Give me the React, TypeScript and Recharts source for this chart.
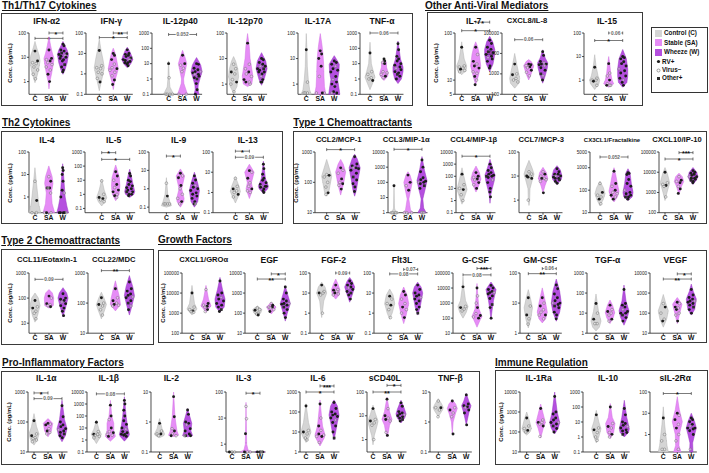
import React from 'react';
import { ComposedChart, Scatter, XAxis, YAxis, ReferenceLine, Curve } from 'recharts';

type Pt = [number, number];
type Vio = { o: Pt[]; d: number[]; t: string };
type Sig = [number, number, number, string];
type Panel = { name: string; dom: [number, number]; ticks: number[]; C: Vio; SA: Vio; W: Vio; sig: Sig[] };

// ---------------- DATA ----------------
const IFNa2: Panel = { name: 'IFN-α2', dom: [0.3, 100], ticks: [1, 10, 100],
  C: { o: [[0.9, 0], [1.5, 0.1], [3, 0.22], [7, 0.3], [12, 0.25], [25, 0.1], [45, 0]], d: [18, 7, 6, 5.5, 4, 3, 2, 1.3], t: 'RRVVVVVV' },
  SA: { o: [[0.5, 0], [1, 0.05], [2, 0.15], [5, 0.25], [9, 0.3], [15, 0.2], [30, 0.1], [70, 0]], d: [20, 9, 8, 7, 6, 5, 4, 3, 2, 1], t: 'RRVRVVVVRR' },
  W: { o: [[2, 0], [3, 0.12], [6, 0.25], [13, 0.33], [20, 0.25], [30, 0.12], [45, 0]], d: [35, 30, 20, 18, 15, 14, 13, 12, 11, 10, 9, 8, 7, 5, 4, 3, 2.5], t: 'RRRRORRVRRRRRORRR' },
  sig: [[1, 2, 100, '*'], [0, 2, 60, '*']] };
const IFNg: Panel = { name: 'IFN-γ', dom: [0.1, 100], ticks: [0.1, 1, 10, 100],
  C: { o: [[0.15, 0], [0.3, 0.08], [0.8, 0.2], [2, 0.3], [5, 0.22], [15, 0.1], [50, 0]], d: [14, 2.5, 2, 1.8, 1.2, 1, 0.6, 0.4], t: 'RVVVVVVR' },
  SA: { o: [[0.17, 0], [0.4, 0.08], [1, 0.22], [1.8, 0.3], [4, 0.22], [10, 0.12], [18, 0]], d: [10, 8, 5, 3, 2, 1.8, 1.5, 1.2, 0.8, 0.5, 0.3], t: 'RRRVVRVVVRR' },
  W: { o: [[2, 0], [3, 0.2], [5, 0.33], [8, 0.25], [14, 0.12], [20, 0]], d: [15, 10, 9, 8, 7, 6, 5, 5, 4.5, 4, 3.5, 3.5, 3, 2.5], t: 'RRRRRORVRRRRRR' },
  sig: [[1, 2, 100, '**'], [0, 2, 60, '*']] };
const IL12p40: Panel = { name: 'IL-12p40', dom: [0.1, 1000], ticks: [0.1, 1, 10, 100, 1000],
  C: { o: [[0.1, 0.32], [0.13, 0.25], [0.3, 0.08], [1, 0.04], [5, 0.02], [15, 0]], d: [10, 1.2, 0.1, 0.1, 0.1, 0.1], t: 'RVVVVV' },
  SA: { o: [[0.1, 0.3], [0.2, 0.2], [0.5, 0.08], [1, 0.06], [3, 0.15], [10, 0.25], [25, 0.15], [75, 0]], d: [35, 10, 8, 5, 3, 0.1, 0.1], t: 'RRVVVVV' },
  W: { o: [[0.1, 0.15], [0.2, 0.08], [0.4, 0.1], [1, 0.2], [3, 0.33], [8, 0.25], [15, 0.12], [25, 0]], d: [10, 9, 5, 4, 3, 3, 2.5, 2, 2, 1.5, 1.2, 1, 0.5, 0.2, 0.1], t: 'RRRRRVRRVRRORRR' },
  sig: [[0, 2, 800, '0.052']] };
const IL12p70: Panel = { name: 'IL-12p70', dom: [0.4, 100], ticks: [1, 10, 100],
  C: { o: [[0.45, 0], [0.8, 0.2], [2, 0.3], [4, 0.25], [8, 0.12], [12, 0]], d: [6, 4, 3, 2.5, 1.5, 1.2, 1, 0.5], t: 'VVRVVRVV' },
  SA: { o: [[0.8, 0], [1, 0.25], [2, 0.32], [4, 0.25], [10, 0.15], [30, 0.1], [95, 0]], d: [40, 6, 4, 3, 2.5, 2, 1.5, 1.2, 1.2, 1], t: 'RVVRVVRVRV' },
  W: { o: [[0.9, 0], [1.5, 0.15], [4, 0.33], [8, 0.25], [17, 0]], d: [10, 9, 7, 6, 5, 5, 4, 4, 3.5, 3, 3, 2.5, 2, 1.5, 1.2, 1.2], t: 'RRRRVRRORRRRVRRR' },
  sig: [] };
const IL17A: Panel = { name: 'IL-17A', dom: [0.4, 100], ticks: [1, 10, 100],
  C: { o: [[0.4, 0.3], [0.6, 0.2], [1.5, 0.12], [5, 0.06], [20, 0.04], [95, 0]], d: [22, 1.2, 0.45, 0.45, 0.45], t: 'RVVVV' },
  SA: { o: [[0.4, 0.33], [0.8, 0.25], [2, 0.22], [6, 0.2], [15, 0.16], [35, 0.1], [95, 0]], d: [20, 15, 10, 5, 2, 0.45, 0.45, 0.45], t: 'RRRRVVVR' },
  W: { o: [[0.4, 0.33], [0.7, 0.28], [1.5, 0.2], [3, 0.28], [6, 0.3], [9, 0.15], [13, 0]], d: [8, 7, 6, 5, 4, 3.5, 3, 2, 1.5, 1.2, 1, 0.8, 0.5, 0.45, 0.45], t: 'RRRVRRRRVRRRRRV' },
  sig: [] };
const TNFa: Panel = { name: 'TNF-α', dom: [0.1, 1000], ticks: [0.1, 1, 10, 100, 1000],
  C: { o: [[0.2, 0], [0.5, 0.15], [1.3, 0.3], [3, 0.2], [10, 0.08], [50, 0.04], [250, 0]], d: [50, 3, 2, 1.2, 1, 0.8], t: 'RVVVVR' },
  SA: { o: [[0.8, 0], [1.5, 0.22], [2.5, 0.25], [6, 0.15], [12, 0.15], [20, 0]], d: [20, 15, 12, 10, 3, 2.5, 2, 1.5, 1.2], t: 'RRVRVVVRV' },
  W: { o: [[0.5, 0], [1, 0.2], [3, 0.3], [6, 0.3], [20, 0.15], [100, 0.06], [300, 0]], d: [200, 80, 30, 20, 15, 10, 8, 6, 5, 4, 3, 2.5, 2, 1.5, 1], t: 'RRRRRRRRVRRRORR' },
  sig: [[0, 2, 1000, '0.06']] };
const IL7: Panel = { name: 'IL-7', dom: [5, 100], ticks: [5, 10, 100],
  C: { o: [[13, 0], [16, 0.25], [20, 0.3], [28, 0.15], [45, 0.06], [65, 0]], d: [50, 20, 19, 18, 17, 16, 15], t: 'RVVVRVV' },
  SA: { o: [[8, 0], [12, 0.15], [20, 0.3], [35, 0.22], [50, 0.12], [65, 0]], d: [50, 35, 25, 22, 20, 18, 15, 14, 12, 10, 8], t: 'RVRVRRVVRVR' },
  W: { o: [[15, 0], [22, 0.2], [35, 0.3], [45, 0.3], [65, 0.18], [85, 0]], d: [70, 60, 50, 45, 40, 38, 35, 32, 30, 28, 25, 20, 18], t: 'RRRRORRRVRRRR' },
  sig: [[1, 2, 170, '*'], [0, 2, 112, '*']] };
const CXCL8: Panel = { name: 'CXCL8/IL-8', dom: [100, 100000], ticks: [100, 1000, 10000, 100000],
  C: { o: [[200, 0], [350, 0.25], [600, 0.3], [1500, 0.2], [3000, 0.12], [10000, 0]], d: [3000, 1000, 900, 600, 500, 400], t: 'RVRVVV' },
  SA: { o: [[500, 0], [1000, 0.15], [2500, 0.3], [4000, 0.15], [5000, 0]], d: [3000, 2800, 2500, 2200, 2000, 1500, 1200, 800], t: 'RRVRVRVV' },
  W: { o: [[350, 0], [800, 0.15], [2000, 0.28], [3500, 0.3], [6000, 0.15], [15000, 0]], d: [12000, 8000, 4000, 3500, 3000, 3000, 2800, 2500, 2000, 1500, 1000, 800, 500], t: 'RRRVRRRVRROVR' },
  sig: [[0, 2, 47000, '0.06']] };
const IL15: Panel = { name: 'IL-15', dom: [0.25, 100], ticks: [1, 10, 100],
  C: { o: [[0.4, 0], [0.7, 0.25], [1, 0.3], [1.5, 0.2], [4, 0.08], [12, 0]], d: [3.5, 1.2, 1, 1, 0.9, 0.6], t: 'RVVVRV' },
  SA: { o: [[0.5, 0], [0.7, 0.3], [1, 0.2], [2, 0.12], [5, 0.06], [10, 0]], d: [5, 2, 1.5, 1, 0.7, 0.6, 0.6, 0.6], t: 'RVVRVVRV' },
  W: { o: [[0.5, 0], [0.8, 0.25], [1.5, 0.3], [3, 0.3], [8, 0.22], [20, 0]], d: [10, 9, 8, 6, 5, 4, 3, 2.5, 2, 1.5, 1.2, 1, 0.8, 0.6], t: 'RRRRRRVRRRRVRR' },
  sig: [[1, 2, 100, '0.06'], [0, 2, 48, '*']] };

const IL4: Panel = { name: 'IL-4', dom: [0.2, 100], ticks: [1, 10, 100],
  C: { o: [[0.2, 0.35], [0.4, 0.25], [1, 0.18], [5, 0.08], [20, 0]], d: [5, 0.7, 0.2, 0.2], t: 'VRVV' },
  SA: { o: [[0.2, 0.35], [0.5, 0.2], [1.5, 0.15], [4, 0.25], [8, 0.2], [24, 0]], d: [8, 5, 2.5, 2.5, 2.5, 1.5, 0.2, 0.2, 0.2], t: 'VRRRVVVVR' },
  W: { o: [[0.2, 0.35], [0.4, 0.25], [1, 0.15], [5, 0.08], [15, 0.04], [30, 0]], d: [20, 15, 10, 5, 2, 1.5, 1, 0.2, 0.2, 0.2, 0.2, 0.2], t: 'RRRRRVRRRVRR' },
  sig: [] };
const IL5: Panel = { name: 'IL-5', dom: [0.05, 1000], ticks: [0.1, 1, 10, 100, 1000],
  C: { o: [[0.15, 0], [0.3, 0.2], [0.6, 0.3], [2, 0.15], [12, 0]], d: [9, 1, 0.6, 0.5, 0.4, 0.3], t: 'VVRRVV' },
  SA: { o: [[0.35, 0], [1, 0.2], [4, 0.25], [15, 0.22], [50, 0.1], [120, 0]], d: [40, 20, 10, 5, 3, 2, 1.5, 1, 0.8, 0.6], t: 'RRVRVRRVRV' },
  W: { o: [[0.6, 0], [1, 0.25], [1.6, 0.3], [5, 0.2], [20, 0.1], [60, 0]], d: [30, 20, 10, 8, 5, 4, 3, 2.5, 2, 1.5, 1.5, 1.2, 1, 1, 0.8], t: 'RRRRRRRRRROVRRR' },
  sig: [[0, 1, 900, '*'], [0, 2, 300, '*']] };
const IL9: Panel = { name: 'IL-9', dom: [0.05, 100], ticks: [0.1, 1, 10, 100],
  C: { o: [[0.1, 0], [0.12, 0.3], [0.2, 0.2], [0.5, 0.08], [4, 0]], d: [2, 0.4, 0.15, 0.15, 0.15, 0.15], t: 'VRVVVV' },
  SA: { o: [[0.1, 0], [0.2, 0.2], [0.3, 0.22], [1, 0.08], [5, 0.25], [12, 0]], d: [7, 5, 4, 1.5, 1, 0.5, 0.3, 0.2, 0.15], t: 'RVRRVVVRV' },
  W: { o: [[0.1, 0], [0.2, 0.2], [0.8, 0.3], [2, 0.2], [8, 0]], d: [5, 3, 2, 1.5, 1.2, 1, 0.8, 0.6, 0.5, 0.4, 0.3, 0.2, 0.15, 0.15], t: 'RRRVRRRRRRRRRV' },
  sig: [[0, 1, 60, '*']] };
const IL13: Panel = { name: 'IL-13', dom: [0.1, 100], ticks: [0.1, 1, 10, 100],
  C: { o: [[0.3, 0], [0.7, 0.2], [1.1, 0.3], [2, 0.22], [6, 0]], d: [5, 2, 1.5, 1.2, 1, 0.8, 0.6], t: 'VVRVVRV' },
  SA: { o: [[0.5, 0], [1.5, 0.2], [3, 0.12], [10, 0.28], [25, 0]], d: [12, 10, 5, 3, 2, 1.5, 1.2, 1], t: 'RVRVVRVV' },
  W: { o: [[0.9, 0], [1.5, 0.25], [2, 0.3], [5, 0.12], [35, 0]], d: [25, 15, 8, 5, 4, 3, 2.5, 2, 2, 2, 1.8, 1.5, 1.2, 1], t: 'RRRRRRRRVRRRRR' },
  sig: [[0, 1, 110, '*'], [0, 2, 55, '0.09']] };
const CCL2: Panel = { name: 'CCL2/MCP-1', dom: [10, 1000], ticks: [10, 100, 1000],
  C: { o: [[35, 0], [45, 0.12], [80, 0.2], [160, 0.3], [300, 0.15], [570, 0]], d: [180, 170, 150, 100, 70, 45, 40], t: 'VRVVVRV' },
  SA: { o: [[38, 0], [80, 0.15], [220, 0.3], [400, 0.15], [570, 0]], d: [300, 250, 200, 130, 100, 90, 80, 60], t: 'RVVRVRVR' },
  W: { o: [[35, 0], [55, 0.1], [120, 0.2], [300, 0.33], [600, 0.15], [850, 0]], d: [700, 400, 350, 300, 300, 280, 250, 200, 150, 120, 90, 70, 50], t: 'RRRRVRRRORRRR' },
  sig: [[0, 2, 1200, '*']] };
const CCL3: Panel = { name: 'CCL3/MIP-1α', dom: [1, 10000], ticks: [1, 10, 100, 1000, 10000],
  C: { o: [[1, 0.3], [1.2, 0.1], [2, 0.03], [60, 0]], d: [60, 1, 1, 1, 1], t: 'RVVVV' },
  SA: { o: [[1, 0.3], [1.5, 0.15], [8, 0.05], [40, 0.18], [100, 0.25], [300, 0.12], [500, 0]], d: [300, 100, 60, 30, 1, 1, 1], t: 'RRVRVVV' },
  W: { o: [[1, 0.25], [2, 0.1], [8, 0.05], [40, 0.2], [130, 0.3], [600, 0.15], [5000, 0]], d: [3000, 1000, 500, 200, 150, 120, 100, 100, 80, 60, 40, 1, 1, 1], t: 'RRRRRRVRRORVVV' },
  sig: [[0, 2, 15000, '*']] };
const CCL4: Panel = { name: 'CCL4/MIP-1β', dom: [0.1, 10000], ticks: [0.1, 1, 10, 100, 1000, 10000],
  C: { o: [[0.5, 0], [2, 0.15], [8, 0.3], [30, 0.2], [150, 0.08], [500, 0]], d: [150, 20, 10, 8, 3, 1], t: 'RVVRVV' },
  SA: { o: [[5, 0], [15, 0.15], [60, 0.3], [200, 0.2], [700, 0]], d: [200, 100, 80, 60, 50, 30, 20, 10], t: 'RRVRVRVR' },
  W: { o: [[0.6, 0], [3, 0.05], [8, 0.12], [40, 0.25], [130, 0.3], [500, 0.15], [2500, 0]], d: [1000, 500, 300, 200, 150, 120, 100, 100, 80, 50, 30, 10, 5, 2], t: 'RRRRRRORRVRRRR' },
  sig: [[0, 2, 4500, '*']] };
const CCL7: Panel = { name: 'CCL7/MCP-3', dom: [0.3, 100], ticks: [1, 10, 100],
  C: { o: [[0.6, 0], [1, 0.04], [3, 0.06], [7, 0.2], [12, 0.3], [20, 0.2], [45, 0]], d: [15, 12, 10, 10, 9, 8, 1], t: 'VVRVRRV' },
  SA: { o: [[2, 0], [4, 0.12], [8, 0.28], [14, 0.2], [23, 0]], d: [15, 12, 10, 8, 8, 7, 6, 2], t: 'VRVVRVVR' },
  W: { o: [[4.5, 0], [7, 0.25], [10, 0.3], [18, 0.2], [27, 0]], d: [20, 15, 12, 12, 10, 10, 9, 8, 8, 7, 6, 5], t: 'RRRRVRRRRORR' },
  sig: [] };
const CX3CL1: Panel = { name: 'CX3CL1/Fractalkine', dom: [10, 5000], ticks: [10, 100, 1000, 5000],
  C: { o: [[20, 0], [40, 0.2], [70, 0.3], [130, 0.2], [250, 0]], d: [200, 80, 60, 50, 40, 25], t: 'VRVVRV' },
  SA: { o: [[30, 0], [50, 0.2], [90, 0.3], [200, 0.2], [500, 0.1], [1000, 0]], d: [700, 200, 150, 100, 80, 70, 60, 50, 40], t: 'RRVRVVRVR' },
  W: { o: [[35, 0], [50, 0.25], [80, 0.3], [200, 0.2], [600, 0.12], [900, 0]], d: [600, 550, 500, 300, 200, 150, 100, 80, 70, 60, 50, 50, 40], t: 'RRRRRRVRRRORR' },
  sig: [[0, 2, 3000, '0.052']] };
const CXCL10: Panel = { name: 'CXCL10/IP-10', dom: [100, 100000], ticks: [100, 1000, 10000, 100000],
  C: { o: [[400, 0], [1000, 0.12], [3000, 0.28], [8000, 0.15], [17000, 0]], d: [10000, 3000, 2500, 2200, 2000, 600], t: 'RVVRVV' },
  SA: { o: [[800, 0], [2000, 0.15], [3500, 0.28], [6000, 0.2], [9000, 0]], d: [6000, 4000, 3500, 3000, 2000, 1500, 900], t: 'VRVRVRR' },
  W: { o: [[2500, 0], [4000, 0.2], [6000, 0.3], [10000, 0.22], [17000, 0]], d: [12000, 10000, 9000, 8000, 7000, 6000, 6000, 5000, 5000, 4500, 4000, 3500, 3000], t: 'RRRRRRVRRRORR' },
  sig: [[1, 2, 93000, '***'], [0, 2, 45000, '*']] };

const CCL11: Panel = { name: 'CCL11/Eotaxin-1', dom: [4, 1000], ticks: [10, 100, 1000],
  C: { o: [[11, 0], [20, 0.15], [50, 0.3], [100, 0.2], [160, 0]], d: [80, 45, 40, 30, 25, 15], t: 'RVRVVV' },
  SA: { o: [[40, 0], [50, 0.25], [100, 0.28], [160, 0.2], [220, 0]], d: [120, 100, 60, 55, 50, 45], t: 'RVRVVR' },
  W: { o: [[18, 0], [40, 0.15], [100, 0.3], [160, 0.22], [260, 0]], d: [150, 100, 90, 80, 70, 60, 50, 40, 30, 20], t: 'RRRRVRRRRR' },
  sig: [[0, 2, 560, '0.09']] };
const CCL22: Panel = { name: 'CCL22/MDC', dom: [10, 1000], ticks: [10, 100, 1000],
  C: { o: [[30, 0], [60, 0.2], [90, 0.3], [150, 0.15], [230, 0]], d: [150, 100, 90, 80, 60, 40], t: 'RVRVVV' },
  SA: { o: [[55, 0], [90, 0.3], [150, 0.25], [300, 0.12], [550, 0]], d: [300, 150, 120, 100, 90, 85, 80], t: 'RVRVRVV' },
  W: { o: [[40, 0], [80, 0.15], [180, 0.3], [350, 0.2], [820, 0]], d: [500, 300, 250, 200, 180, 160, 150, 120, 100, 80, 60], t: 'RRRRRVRROVR' },
  sig: [[0, 2, 1200, '**']] };
const CXCL1: Panel = { name: 'CXCL1/GROα', dom: [100, 100000], ticks: [100, 1000, 10000, 100000],
  C: { o: [[800, 0], [1600, 0.3], [3000, 0.15], [10000, 0.06], [24000, 0]], d: [10000, 2000, 1500, 1300, 1200, 1100], t: 'RVVRVV' },
  SA: { o: [[1100, 0], [2300, 0.3], [5000, 0.15], [24000, 0]], d: [15000, 3000, 2500, 2200, 2000, 1500, 1200], t: 'VRVRVRV' },
  W: { o: [[1100, 0], [2000, 0.25], [5000, 0.3], [15000, 0.15], [60000, 0]], d: [40000, 10000, 8000, 6000, 5000, 4000, 3000, 2500, 2000, 1500, 1200], t: 'RRRVRRRRROR' },
  sig: [] };
const EGF: Panel = { name: 'EGF', dom: [10, 10000], ticks: [10, 100, 1000, 10000],
  C: { o: [[70, 0], [100, 0.2], [150, 0.28], [230, 0]], d: [180, 150, 140, 100, 90, 80], t: 'VVRVVR' },
  SA: { o: [[90, 0], [150, 0.2], [200, 0.28], [350, 0]], d: [300, 250, 200, 200, 180, 150, 120], t: 'VRVRVVR' },
  W: { o: [[40, 0], [100, 0.12], [300, 0.3], [800, 0.15], [2300, 0]], d: [2000, 1000, 500, 400, 300, 300, 280, 250, 200, 150, 100, 60], t: 'RRRRRVRRORRR' },
  sig: [[1, 2, 9000, '*'], [0, 2, 5000, '**']] };
const FGF2: Panel = { name: 'FGF-2', dom: [0.1, 100], ticks: [0.1, 1, 10, 100],
  C: { o: [[0.6, 0], [1, 0.04], [4, 0.12], [10, 0.3], [20, 0.2], [35, 0]], d: [25, 12, 10, 10, 8, 1], t: 'RVRVVV' },
  SA: { o: [[5, 0], [8, 0.2], [15, 0.25], [30, 0.12], [50, 0]], d: [25, 15, 14, 12, 10, 9, 8], t: 'RVRVRVV' },
  W: { o: [[3.5, 0], [8, 0.15], [20, 0.3], [40, 0.15], [60, 0]], d: [40, 30, 25, 20, 18, 15, 12, 10, 8, 5], t: 'RRRRVRRORR' },
  sig: [[1, 2, 100, '0.09']] };
const Flt3L: Panel = { name: 'Flt3L', dom: [0.1, 100], ticks: [0.1, 1, 10, 100],
  C: { o: [[0.5, 0], [1, 0.15], [3, 0.3], [8, 0.2], [16, 0]], d: [7, 5, 3, 2.5, 1.5, 0.6], t: 'RVVRVV' },
  SA: { o: [[0.3, 0], [0.8, 0.15], [3, 0.3], [8, 0.2], [20, 0]], d: [12, 8, 5, 3, 2, 1.5, 1, 0.6], t: 'RRVVRVVR' },
  W: { o: [[0.8, 0], [2, 0.15], [10, 0.3], [20, 0.2], [35, 0]], d: [25, 15, 10, 8, 7, 6, 5, 4, 3, 2, 1.5, 1], t: 'RRRRRVRRRRRO' },
  sig: [[1, 2, 150, '0.07'], [0, 2, 90, '0.08']] };
const GCSF: Panel = { name: 'G-CSF', dom: [10, 100000], ticks: [10, 100, 1000, 10000, 100000],
  C: { o: [[100, 0], [250, 0.2], [600, 0.3], [1500, 0.15], [10000, 0.05], [55000, 0]], d: [12000, 600, 500, 400, 300], t: 'RVRVV' },
  SA: { o: [[25, 0], [80, 0.2], [130, 0.3], [400, 0.12], [3000, 0.05], [20000, 0]], d: [10000, 3000, 1000, 500, 200, 150, 120, 100], t: 'RVVRVRVR' },
  W: { o: [[80, 0], [300, 0.06], [1500, 0.15], [8000, 0.3], [25000, 0]], d: [15000, 10000, 8000, 6000, 5000, 5000, 4000, 3000, 2000, 800, 500, 100], t: 'RRRRRVRRRORR' },
  sig: [[1, 2, 200000, '***'], [0, 2, 75000, '0.08']] };
const GMCSF: Panel = { name: 'GM-CSF', dom: [1, 100], ticks: [1, 10, 100],
  C: { o: [[1.5, 0], [3, 0.15], [7, 0.25], [15, 0.12], [28, 0]], d: [15, 8, 4, 3, 2], t: 'RVRVV' },
  SA: { o: [[2.2, 0], [3, 0.2], [5, 0.3], [10, 0.2], [32, 0]], d: [15, 10, 8, 6, 5, 4, 4, 3], t: 'RVRVVRVV' },
  W: { o: [[2.5, 0], [5, 0.2], [10, 0.3], [25, 0.2], [63, 0]], d: [40, 30, 20, 15, 12, 10, 10, 9, 8, 7, 5, 4, 3], t: 'RRRRRRVRORRRR' },
  sig: [[1, 2, 140, '0.06'], [0, 2, 95, '**']] };
const TGFa: Panel = { name: 'TGF-α', dom: [1, 1000], ticks: [1, 10, 100, 1000],
  C: { o: [[1.3, 0], [2, 0.2], [4, 0.3], [12, 0.15], [90, 0]], d: [30, 10, 5, 3, 3], t: 'RVRVV' },
  SA: { o: [[3, 0], [6, 0.2], [11, 0.28], [25, 0.15], [45, 0]], d: [25, 15, 12, 10, 8, 5, 4], t: 'RVRVVRV' },
  W: { o: [[2.5, 0], [6, 0.2], [13, 0.3], [40, 0.12], [250, 0]], d: [150, 30, 25, 20, 15, 12, 10, 10, 8, 6, 4], t: 'RRRRVRRRORR' },
  sig: [] };
const VEGF: Panel = { name: 'VEGF', dom: [10, 10000], ticks: [10, 100, 1000, 10000],
  C: { o: [[20, 0], [50, 0.2], [130, 0.3], [300, 0.15], [850, 0]], d: [300, 200, 100, 50, 40], t: 'VRVVR' },
  SA: { o: [[30, 0], [100, 0.15], [280, 0.28], [400, 0.15], [600, 0]], d: [350, 300, 200, 180, 150, 100, 80, 40], t: 'RVRVRVVR' },
  W: { o: [[80, 0], [150, 0.2], [500, 0.3], [1200, 0.12], [2800, 0]], d: [1500, 800, 600, 500, 400, 400, 350, 300, 250, 200, 150, 100], t: 'RRRRRVRRRORR' },
  sig: [[1, 2, 9000, '*'], [0, 2, 5000, '**']] };

const IL1a: Panel = { name: 'IL-1α', dom: [10, 1000], ticks: [10, 100, 1000],
  C: { o: [[17, 0], [25, 0.2], [40, 0.3], [70, 0.15], [190, 0]], d: [110, 40, 35, 30, 28, 25, 22], t: 'RVRVVVV' },
  SA: { o: [[32, 0], [50, 0.2], [90, 0.28], [130, 0]], d: [90, 85, 80, 60, 50, 45, 40], t: 'RVRVRVV' },
  W: { o: [[22, 0], [35, 0.2], [60, 0.3], [120, 0.15], [530, 0]], d: [350, 150, 100, 80, 70, 60, 55, 50, 45, 40, 35, 30], t: 'RRRRRRVRRORR' },
  sig: [[0, 1, 930, '*'], [0, 2, 600, '0.09']] };
const IL1b: Panel = { name: 'IL-1β', dom: [0.1, 10000], ticks: [0.1, 1, 10, 100, 1000, 10000],
  C: { o: [[0.5, 0], [1.5, 0.2], [3, 0.3], [8, 0.15], [45, 0]], d: [30, 5, 3, 3, 2.5, 2, 1.5], t: 'RVRVVVV' },
  SA: { o: [[0.8, 0], [2, 0.3], [6, 0.2], [25, 0.2], [100, 0.08], [2000, 0]], d: [800, 100, 50, 10, 5, 4, 3, 2.5, 2], t: 'RRVRVRVVR' },
  W: { o: [[0.8, 0], [2, 0.25], [3, 0.3], [10, 0.2], [100, 0.1], [4000, 0]], d: [2000, 1000, 300, 100, 40, 20, 10, 8, 5, 4, 3, 3, 2.5, 2], t: 'RRRRRRRVRRRORR' },
  sig: [[0, 2, 7000, '0.08']] };
const IL2: Panel = { name: 'IL-2', dom: [0.1, 10], ticks: [0.1, 1, 10],
  C: { o: [[0.3, 0], [0.35, 0.25], [0.4, 0.3], [0.6, 0.15], [1.3, 0]], d: [0.9, 0.5, 0.4, 0.4, 0.35], t: 'RVVRV' },
  SA: { o: [[0.33, 0], [0.36, 0.3], [0.5, 0.2], [1.5, 0.08], [10, 0]], d: [7, 1.5, 0.6, 0.5, 0.4, 0.35, 0.35], t: 'RRVRVVR' },
  W: { o: [[0.32, 0], [0.35, 0.3], [0.5, 0.2], [0.9, 0.25], [2.8, 0]], d: [2.5, 1.8, 1, 0.9, 0.8, 0.6, 0.5, 0.4, 0.35, 0.35, 0.35], t: 'RRRRVRRRRRV' },
  sig: [] };
const IL3: Panel = { name: 'IL-3', dom: [0.5, 100], ticks: [1, 10, 100],
  C: { o: [[0.5, 0.3], [0.53, 0]], d: [0.5, 0.5, 0.5], t: 'VVR' },
  SA: { o: [[0.5, 0.35], [0.6, 0.12], [1, 0.04], [40, 0]], d: [28, 9.4, 2.5, 0.5, 0.5, 0.5], t: 'VVRVRV' },
  W: { o: [[0.5, 0.3], [0.53, 0]], d: [0.5, 0.5, 0.5, 0.5], t: 'RRRV' },
  sig: [[1, 2, 90, '*']] };
const IL6: Panel = { name: 'IL-6', dom: [1, 1000], ticks: [1, 10, 100, 1000],
  C: { o: [[3, 0], [6, 0.2], [10, 0.3], [30, 0.15], [260, 0]], d: [200, 12, 10, 8, 5, 4], t: 'RVRVVV' },
  SA: { o: [[2, 0], [5, 0.25], [7, 0.3], [20, 0.15], [50, 0.1], [400, 0]], d: [250, 50, 20, 12, 8, 7, 6, 6, 3], t: 'RVRVRVVRV' },
  W: { o: [[4, 0], [10, 0.1], [30, 0.2], [70, 0.3], [200, 0.2], [400, 0]], d: [300, 150, 100, 80, 70, 60, 50, 40, 30, 20, 10, 5], t: 'RRRRRRRVRRRO' },
  sig: [[1, 2, 2000, '***'], [0, 2, 1000, '*']] };
const sCD40L: Panel = { name: 'sCD40L', dom: [0.3, 100], ticks: [1, 10, 100],
  C: { o: [[0.6, 0], [1.5, 0.08], [4, 0.25], [6, 0.3], [12, 0.15], [28, 0]], d: [20, 7, 6, 5, 4, 1], t: 'RVRVVV' },
  SA: { o: [[1.3, 0], [2, 0.08], [4, 0.15], [7, 0.3], [15, 0.15], [60, 0]], d: [50, 20, 10, 8, 7, 6, 2, 1.5], t: 'RVRVRVVR' },
  W: { o: [[5, 0], [8, 0.22], [12, 0.3], [20, 0.2], [45, 0]], d: [35, 25, 15, 13, 12, 11, 10, 9, 8, 7, 6], t: 'RRRRRVRRROR' },
  sig: [[1, 2, 190, '*'], [0, 2, 100, '**']] };
const TNFb: Panel = { name: 'TNF-β', dom: [0.1, 10], ticks: [0.1, 1, 10],
  C: { o: [[1.5, 0], [2.5, 0.25], [3, 0.3], [4, 0.2], [6, 0]], d: [5, 3, 3, 2.5, 1.5], t: 'VRVVV' },
  SA: { o: [[0.4, 0], [1, 0.05], [2, 0.2], [2.8, 0.3], [4, 0.2], [5.5, 0]], d: [5, 3, 2.5, 2, 1.5, 0.4], t: 'RVRVVR' },
  W: { o: [[0.8, 0], [2, 0.15], [3.5, 0.28], [5, 0.15], [9, 0]], d: [8, 4, 3.5, 3.2, 3, 2.5, 2, 0.8], t: 'RRRRVRRR' },
  sig: [] };
const IL1Ra: Panel = { name: 'IL-1Ra', dom: [10, 10000], ticks: [10, 100, 1000, 10000],
  C: { o: [[70, 0], [100, 0.2], [150, 0.28], [400, 0.15], [1000, 0]], d: [500, 200, 150, 120, 100], t: 'RVVRV' },
  SA: { o: [[50, 0], [150, 0.15], [300, 0.28], [800, 0.15], [2500, 0]], d: [1500, 400, 300, 300, 250, 200, 60], t: 'RVRVVRV' },
  W: { o: [[80, 0], [150, 0.2], [300, 0.3], [1000, 0.15], [10000, 0]], d: [6000, 1000, 800, 500, 400, 300, 300, 250, 200, 150, 100], t: 'RRRRRVRRORR' },
  sig: [] };
const IL10: Panel = { name: 'IL-10', dom: [0.1, 1000], ticks: [0.1, 1, 10, 100, 1000],
  C: { o: [[0.4, 0], [1, 0.15], [3.5, 0.28], [10, 0.15], [60, 0]], d: [30, 4, 3, 2, 1, 0.6], t: 'RVRVVV' },
  SA: { o: [[0.8, 0], [2, 0.2], [8, 0.28], [20, 0.12], [170, 0]], d: [100, 8, 5, 4, 2, 1.5, 1], t: 'RVRVVRV' },
  W: { o: [[1, 0], [2, 0.25], [3.5, 0.3], [20, 0.15], [280, 0]], d: [80, 30, 10, 8, 6, 5, 4, 3, 2.5, 2, 1.5], t: 'RRRRRVRRRRO' },
  sig: [] };
const sIL2Ra: Panel = { name: 'sIL-2Rα', dom: [0.15, 100], ticks: [1, 10, 100],
  C: { o: [[0.15, 0.3], [0.3, 0.22], [0.6, 0.18], [3, 0.08], [20, 0]], d: [6, 1, 0.5, 0.2, 0.2], t: 'RVVVV' },
  SA: { o: [[0.15, 0.22], [0.3, 0.1], [1, 0.12], [4, 0.3], [15, 0.12], [60, 0]], d: [10, 8, 5, 3, 2, 1, 0.5, 0.2], t: 'RVRVRVVV' },
  W: { o: [[0.15, 0.1], [0.4, 0.08], [1, 0.2], [2, 0.3], [4, 0.2], [10, 0]], d: [6, 5, 4, 3, 2.5, 2, 2, 1.8, 1.5, 1, 0.2], t: 'RRRRVRRRRRV' },
  sig: [[0, 2, 85, '*']] };

const CATEGORIES = ['C', 'SA', 'W'] as const;
const GROUP_TITLES = ['Th1/Th17 Cytokines', 'Other Anti-Viral Mediators', 'Th2 Cytokines', 'Type 1 Chemoattractants',
  'Type 2 Chemoattractants', 'Growth Factors', 'Pro-Inflammatory Factors', 'Immune Regulation'];
const LEGEND_GROUPS = ['Control (C)', 'Stable (SA)', 'Wheeze (W)'];
const LEGEND_VIRUS = ['RV+', 'Virus−', 'Other+'];

// ---------------- LAYOUT (positions only) ----------------
const ROWS = [
  { t: 20.7, top: 32.7, bot: 94 },
  { t: 140, top: 152.3, bot: 213 },
  { t: 260, top: 272.5, bot: 332.7 },
  { t: 378.3, top: 391.7, bot: 451.7 },
];
// [panel, row, axisX, x of C, has y-label]
const PLACES: [Panel, number, number, number, boolean][] = [
  [IFNa2, 0, 32.3, 34.7, true], [IFNg, 0, 86, 99.3, false], [IL12p40, 0, 151.7, 168.3, false], [IL12p70, 0, 226.7, 233.3, false],
  [IL17A, 0, 297.7, 306, false], [TNFa, 0, 360, 370, false], [IL7, 0, 455, 461.7, true], [CXCL8, 0, 502.3, 515, false], [IL15, 0, 584.3, 595, false],
  [IL4, 1, 29.3, 35, true], [IL5, 1, 85, 101.7, false], [IL9, 1, 149.3, 166.7, false], [IL13, 1, 213.3, 235.7, false],
  [CCL2, 1, 315, 326.7, true], [CCL3, 1, 391.7, 394.3, false], [CCL4, 1, 456.7, 461.7, false], [CCL7, 1, 519.3, 529.3, false],
  [CX3CL1, 1, 590, 600, false], [CXCL10, 1, 661.7, 665, false],
  [CCL11, 2, 29, 35, true], [CCL22, 2, 88.3, 101.7, false], [CXCL1, 2, 181.7, 191.7, true], [EGF, 2, 245, 257.3, false],
  [FGF2, 2, 310, 321.7, false], [Flt3L, 2, 374.3, 390, false], [GCSF, 2, 453.3, 463.3, false], [GMCSF, 2, 520, 528.3, false],
  [TGFa, 2, 586.7, 595.7, false], [VEGF, 2, 650, 663.3, false],
  [IL1a, 3, 32.3, 34.3, true], [IL1b, 3, 87.3, 96.7, false], [IL2, 3, 150.7, 159.3, false], [IL3, 3, 228.3, 231.7, false],
  [IL6, 3, 302.7, 306, false], [sCD40L, 3, 369.3, 372.7, false], [TNFb, 3, 430, 438.3, false],
  [IL1Ra, 3, 520, 526.7, true], [IL10, 3, 582.7, 596, false], [sIL2Ra, 3, 650, 663.3, false],
];
// [x1, y1, x2, y2, titleX, titleY]
const BOXES: number[][] = [
  [1, 12.7, 413, 106, 2, 5.5], [426.7, 12, 642.7, 106, 425, 5.5], [1, 131.3, 283, 224, 2, 123], [292.7, 131.3, 707.3, 224, 293.3, 123],
  [1, 249, 154, 345, 1.3, 241], [158, 250, 707.3, 343.3, 158, 240], [1, 370.7, 480, 465, 2, 363.3], [495, 370, 708, 465, 495, 363.3],
];

const FONT = '"Liberation Sans", Arial, Helvetica, sans-serif';
const FILL: Record<string, string> = { C: '#d5d5d5', SA: '#e68cf6', W: '#b54fdf' };
const STROKE: Record<string, string> = { C: '#b3b3b3', SA: '#d06fe3', W: '#9634c2' };
const SP = 14, YW = 26, MT = 16, MR = 2, XH = 12, WS = 1.2, MINOFF = 6;
const JIT = [0, 0.6, -0.6, 0.3, -0.3, 0.85, -0.85, 0.45, -0.45, 0.7, -0.7, 0.15, -0.15, 0.55, -0.55, 0.25, -0.25];

function hwAt(o: Pt[], y: number): number {
  if (y <= o[0][0]) return o[0][1];
  for (let k = 1; k < o.length; k++) {
    if (y <= o[k][0]) {
      const a = Math.log(o[k - 1][0]), b = Math.log(o[k][0]);
      const f = b === a ? 0 : (Math.log(y) - a) / (b - a);
      return o[k - 1][1] + f * (o[k][1] - o[k - 1][1]);
    }
  }
  return o[o.length - 1][1];
}

const NoShape = () => <g />;
const DotShape = (props: any) => {
  const { cx, cy, payload } = props;
  if (cx == null || cy == null) return <g />;
  if (payload.t === 'R') return <circle cx={cx} cy={cy} r={1.45} fill="#1c1c1c" />;
  if (payload.t === 'O') return <rect x={cx - 1.35} y={cy - 1.35} width={2.7} height={2.7} fill="#2a2a2a" />;
  return <circle cx={cx} cy={cy} r={1.35} fill="rgba(255,255,255,0.35)" stroke="#777" strokeWidth={0.55} />;
};

function sigLabel(txt: string) {
  const star = txt.startsWith('*');
  return (lp: any) => {
    const vb = lp.viewBox || {};
    const x = (vb.x || 0) + (vb.width || 0) / 2;
    const y = (vb.y || 0) + (vb.height || 0) / 2;
    return (
      <text x={x} y={y + (star ? 3.6 : 1.7)} textAnchor="middle" fontSize={star ? 7 : 4.8} fontFamily={FONT}
        fontWeight={700} fill={star ? '#111' : '#666'} stroke="#fff" strokeWidth={star ? 0 : 1.8} paintOrder="stroke">{txt}</text>
    );
  };
}

function PanelChart({ p, r, ax, cx, yl }: { p: Panel; r: number; ax: number; cx: number; yl: boolean }) {
  const row = ROWS[r];
  const off = Math.max(cx - ax, MINOFF);
  const axisX = cx - off;
  const plotW = off + 2 * SP + 5.5;
  const plotH = row.bot - row.top;
  const width = YW + plotW + MR;
  const height = MT + plotH + XH;
  const dl = -off / SP, dr = 2 + 5.5 / SP;
  const dpp = Math.log10(p.dom[1] / p.dom[0]) / plotH;
  const cap = Math.pow(10, 1.5 * dpp);
  const vios = CATEGORIES.map((k, i) => {
    const v: Vio = (p as any)[k];
    const poly = [
      ...v.o.map(([y, h]) => ({ x: i + h * WS, y })),
      ...v.o.slice().reverse().map(([y, h]) => ({ x: i - h * WS, y })),
    ];
    const dots = v.d.map((y, j) => ({ x: i + JIT[j % JIT.length] * Math.max(hwAt(v.o, y), 0.06) * WS * 0.85, y, t: v.t[j] }));
    const s = v.d.slice().sort((a, b) => a - b);
    const n = s.length;
    const med = n % 2 ? s[(n - 1) / 2] : Math.sqrt(s[n / 2 - 1] * s[n / 2]);
    const mh = Math.max(hwAt(v.o, med), 0.05) * WS;
    return { k, i, poly, dots, med, mh };
  });
  const small = p.name.length > 16;
  const tSize = small ? 6 : p.name.includes('/') ? 7.6 : 8.6;
  return (
    <>
      <div style={{ position: 'absolute', left: cx + SP - 2 - 60, width: 120, top: row.t - 6, textAlign: 'center', fontSize: tSize,
        fontWeight: 700, lineHeight: '12px', whiteSpace: 'nowrap', color: '#111' }}>{p.name}</div>
      {yl && (
        <div style={{ position: 'absolute', left: axisX - 19 - 40, width: 80, top: (row.top + row.bot) / 2 - 5, height: 10, lineHeight: '10px',
          textAlign: 'center', fontSize: 5.9, fontWeight: 700, transform: 'rotate(-90deg)', whiteSpace: 'nowrap', color: '#111' }}>Conc. (pg/mL)</div>
      )}
      <div style={{ position: 'absolute', left: axisX - YW, top: row.top - MT }}>
        <ComposedChart width={width} height={height} margin={{ top: MT, right: MR, bottom: 0, left: 0 }}>
          <XAxis type="number" dataKey="x" domain={[dl, dr]} ticks={[0, 1, 2]} interval={0} height={XH} tickSize={2} tickMargin={0}
            tickFormatter={(v: number) => CATEGORIES[Math.round(v)] ?? ''} stroke="#222" strokeWidth={0.8}
            tick={{ fontSize: 6.8, fontWeight: 700, fill: '#111', fontFamily: FONT }} />
          <YAxis type="number" dataKey="y" scale="log" domain={p.dom} ticks={p.ticks} interval={0} width={YW} tickSize={2} tickMargin={1}
            tickFormatter={(v: number) => String(v)} stroke="#222" strokeWidth={0.8}
            tick={{ fontSize: 4.6, fill: '#222', fontFamily: FONT }} />
          {vios.map((v) => (
            <Scatter key={'v' + v.k} data={v.poly} shape={NoShape} isAnimationActive={false} legendType="none"
              line={(lp: any) => <Curve points={lp.points} type="linearClosed" fill={FILL[v.k]} stroke={STROKE[v.k]} strokeWidth={0.5} />} />
          ))}
          {vios.map((v) => (
            <ReferenceLine key={'m' + v.k} segment={[{ x: v.i - v.mh, y: v.med }, { x: v.i + v.mh, y: v.med }]} ifOverflow="visible"
              stroke="#3a3a3a" strokeWidth={0.6} strokeDasharray="1.6 1" />
          ))}
          {vios.map((v) => (
            <Scatter key={'d' + v.k} data={v.dots} shape={DotShape} isAnimationActive={false} legendType="none" />
          ))}
          {p.sig.map(([a, b, lv, txt], j) => (
            <ReferenceLine key={'s' + j} segment={[{ x: a, y: lv }, { x: b, y: lv }]} ifOverflow="visible" stroke="#222" strokeWidth={0.6}
              label={sigLabel(txt)} />
          ))}
          {p.sig.map(([a, , lv], j) => (
            <ReferenceLine key={'ca' + j} segment={[{ x: a, y: lv / cap }, { x: a, y: lv * cap }]} ifOverflow="visible" stroke="#222" strokeWidth={0.6} />
          ))}
          {p.sig.map(([, b, lv], j) => (
            <ReferenceLine key={'cb' + j} segment={[{ x: b, y: lv / cap }, { x: b, y: lv * cap }]} ifOverflow="visible" stroke="#222" strokeWidth={0.6} />
          ))}
        </ComposedChart>
      </div>
    </>
  );
}

function Legend() {
  const ys = [33.3, 42.7, 52.3, 61.7, 70, 78.3];
  const sw = [FILL.C, FILL.SA, FILL.W];
  return (
    <>
      <div style={{ position: 'absolute', left: 651, top: 26.7, width: 57, height: 66, border: '1px solid #333', boxSizing: 'border-box' }} />
      {LEGEND_GROUPS.map((g, i) => (
        <React.Fragment key={g}>
          <div style={{ position: 'absolute', left: 655, top: ys[i] - 3.3, width: 6.6, height: 6.6, background: sw[i] }} />
          <div style={{ position: 'absolute', left: 664, top: ys[i] - 5, lineHeight: '10px', fontSize: 6.3, fontWeight: 700, whiteSpace: 'nowrap' }}>{g}</div>
        </React.Fragment>
      ))}
      {LEGEND_VIRUS.map((g, i) => (
        <React.Fragment key={g}>
          <svg style={{ position: 'absolute', left: 655, top: ys[i + 3] - 3.5 }} width={7} height={7}>
            {i === 0 && <circle cx={3.5} cy={3.5} r={1.6} fill="#1c1c1c" />}
            {i === 1 && <circle cx={3.5} cy={3.5} r={1.5} fill="#fff" stroke="#666" strokeWidth={0.6} />}
            {i === 2 && <rect x={2} y={2} width={3} height={3} fill="#2a2a2a" />}
          </svg>
          <div style={{ position: 'absolute', left: 662, top: ys[i + 3] - 5, lineHeight: '10px', fontSize: 6.3, fontWeight: 700, whiteSpace: 'nowrap' }}>{g}</div>
        </React.Fragment>
      ))}
    </>
  );
}

export default function App() {
  return (
    <div style={{ position: 'relative', width: 709, height: 473, background: '#fff', overflow: 'hidden', fontFamily: FONT, color: '#111' }}>
      <style>{'body{margin:0}'}</style>
      {BOXES.map((b, i) => (
        <React.Fragment key={i}>
          <div style={{ position: 'absolute', left: b[0], top: b[1], width: b[2] - b[0], height: b[3] - b[1], border: '1.3px solid #3a3a3a', boxSizing: 'border-box' }} />
          <div style={{ position: 'absolute', left: b[4], top: b[5] - 6, lineHeight: '12px', fontSize: 10, fontWeight: 700, textDecoration: 'underline', whiteSpace: 'nowrap' }}>{GROUP_TITLES[i]}</div>
        </React.Fragment>
      ))}
      {PLACES.map(([p, r, ax, cx, yl]) => (
        <PanelChart key={p.name} p={p} r={r} ax={ax} cx={cx} yl={yl} />
      ))}
      <Legend />
    </div>
  );
}
